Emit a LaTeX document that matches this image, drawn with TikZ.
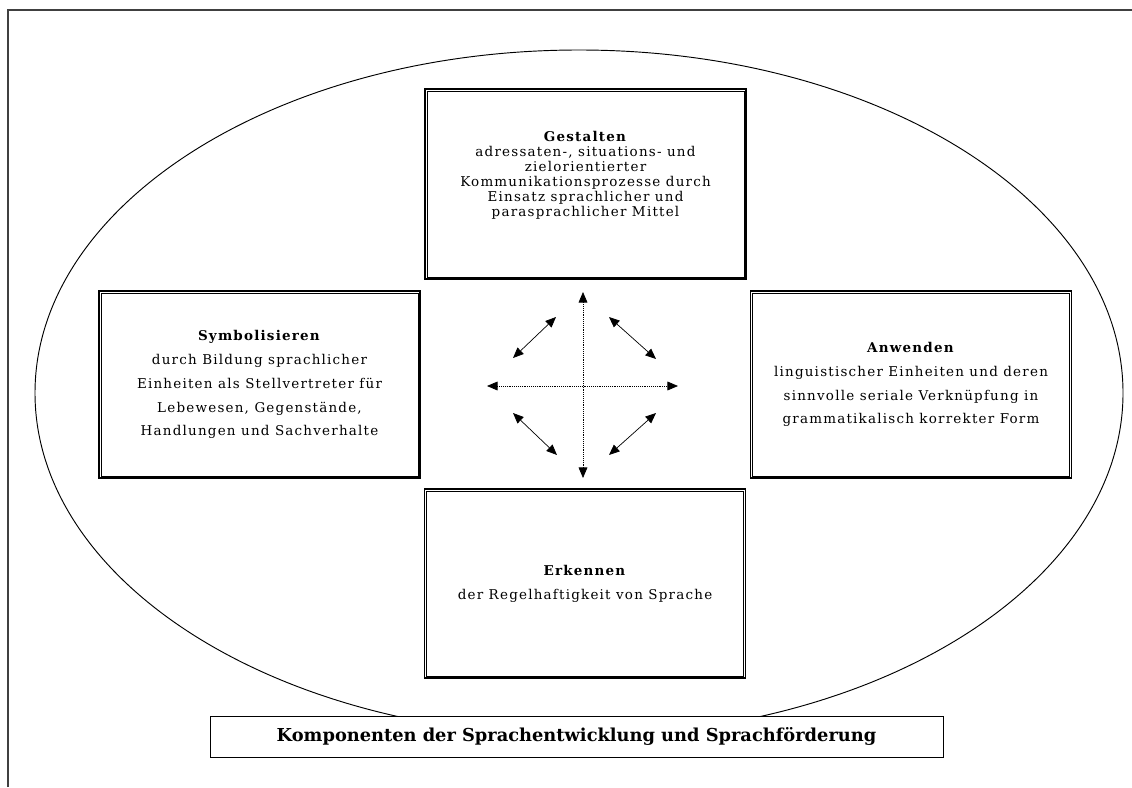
\documentclass[tikz,border=0pt]{standalone}
\usepackage{fontspec}
\setmainfont{DejaVu Serif}
\newfontfamily\kastenfont{DejaVu Serif}[LetterSpace=9]
\usetikzlibrary{arrows.meta,
	positioning,
	shapes}
\tikzstyle{kasten}=[draw, line width=1.1pt, fill=white, align=center,
		inner sep=0, minimum width=9.63cm,
		font={\kastenfont\fontsize{11.5}{20.4}\selectfont}]
\tikzstyle{eng}=[font={\kastenfont\fontsize{11.5}{12.8}\selectfont}]
\tikzstyle{innen}=[draw, line width=0.55pt]
\tikzstyle{titel}=[draw, line width=0.8pt, fill=white, inner sep=0,
		minimum width=21.99cm, minimum height=1.23cm,
		font={\bfseries\fontsize{15.2}{17}\selectfont}]
\tikzstyle{pfeil}=[line width=0.6pt, {Triangle[length=9pt,width=7.5pt]}-{Triangle[length=9pt,width=7.5pt]}]
\tikzstyle{punktpfeil}=[pfeil, dash pattern=on 0.8pt off 0.8pt]

\begin{document}
\begin{tikzpicture}[x=0.03cm, y=-0.03cm]
                \useasboundingbox (0,0) rectangle (1132,787);
                % Rahmen
                \draw[line width=1.6pt, black!75] (8,787) -- (8,10) -- (1132,10);
                \draw[line width=0.8pt] (579,393) ellipse [x radius=544, y radius=343];
                % Komponenten
                \node[kasten, eng, minimum height=5.7cm] (gestalten) at (585.5,184) {\textbf{Gestalten}\\
                    adressaten-, situations- und\\ zielorientierter\\ Kommunikationsprozesse durch\\
                    Einsatz sprachlicher und\\ parasprachlicher Mittel\\[0.4em]};
                \node[kasten, minimum height=5.61cm] (symbol) at (259.5,384.5) {\textbf{Symbolisieren}\\
                    durch Bildung sprachlicher\\ Einheiten als Stellvertreter für\\
                    Lebewesen, Gegenstände,\\ Handlungen und Sachverhalte};
                \node[kasten, minimum height=5.61cm] (anwenden) at (911,384.5) {\textbf{Anwenden}\\
                    linguistischer Einheiten und deren\\ sinnvolle seriale Verknüpfung in\\
                    grammatikalisch korrekter Form};
                \node[kasten, minimum height=5.67cm] (erkennen) at (585,583.5) {\textbf{Erkennen}\\
                    der Regelhaftigkeit von Sprache};
                \foreach \k in {gestalten, symbol, anwenden, erkennen}
                    \draw[innen] ([shift={(2.4pt,-2.4pt)}]\k.north west) rectangle ([shift={(-2.4pt,2.4pt)}]\k.south east);
                \node[titel] (komponenten) at (576.5,736.5) {Komponenten der Sprachentwicklung und Sprachförderung};
                % Pfeile in der Mitte
                \coordinate (oben) at (583,292);
                \coordinate (unten) at (583,478);
                \coordinate (links) at (487,386);
                \coordinate (rechts) at (678,386);
                \coordinate (ol1) at (513,358); \coordinate (ol2) at (556,317);
                \coordinate (or1) at (609,317); \coordinate (or2) at (656,359);
                \coordinate (ul1) at (513,413); \coordinate (ul2) at (557,455);
                \coordinate (ur1) at (656,413); \coordinate (ur2) at (609,455);
                \draw[punktpfeil] (oben) -- (unten);
                \draw[punktpfeil] (links) -- (rechts);
                \draw[pfeil] (ol1) -- (ol2);
                \draw[pfeil] (or1) -- (or2);
                \draw[pfeil] (ul1) -- (ul2);
                \draw[pfeil] (ur1) -- (ur2);
            \end{tikzpicture}
\end{document}
